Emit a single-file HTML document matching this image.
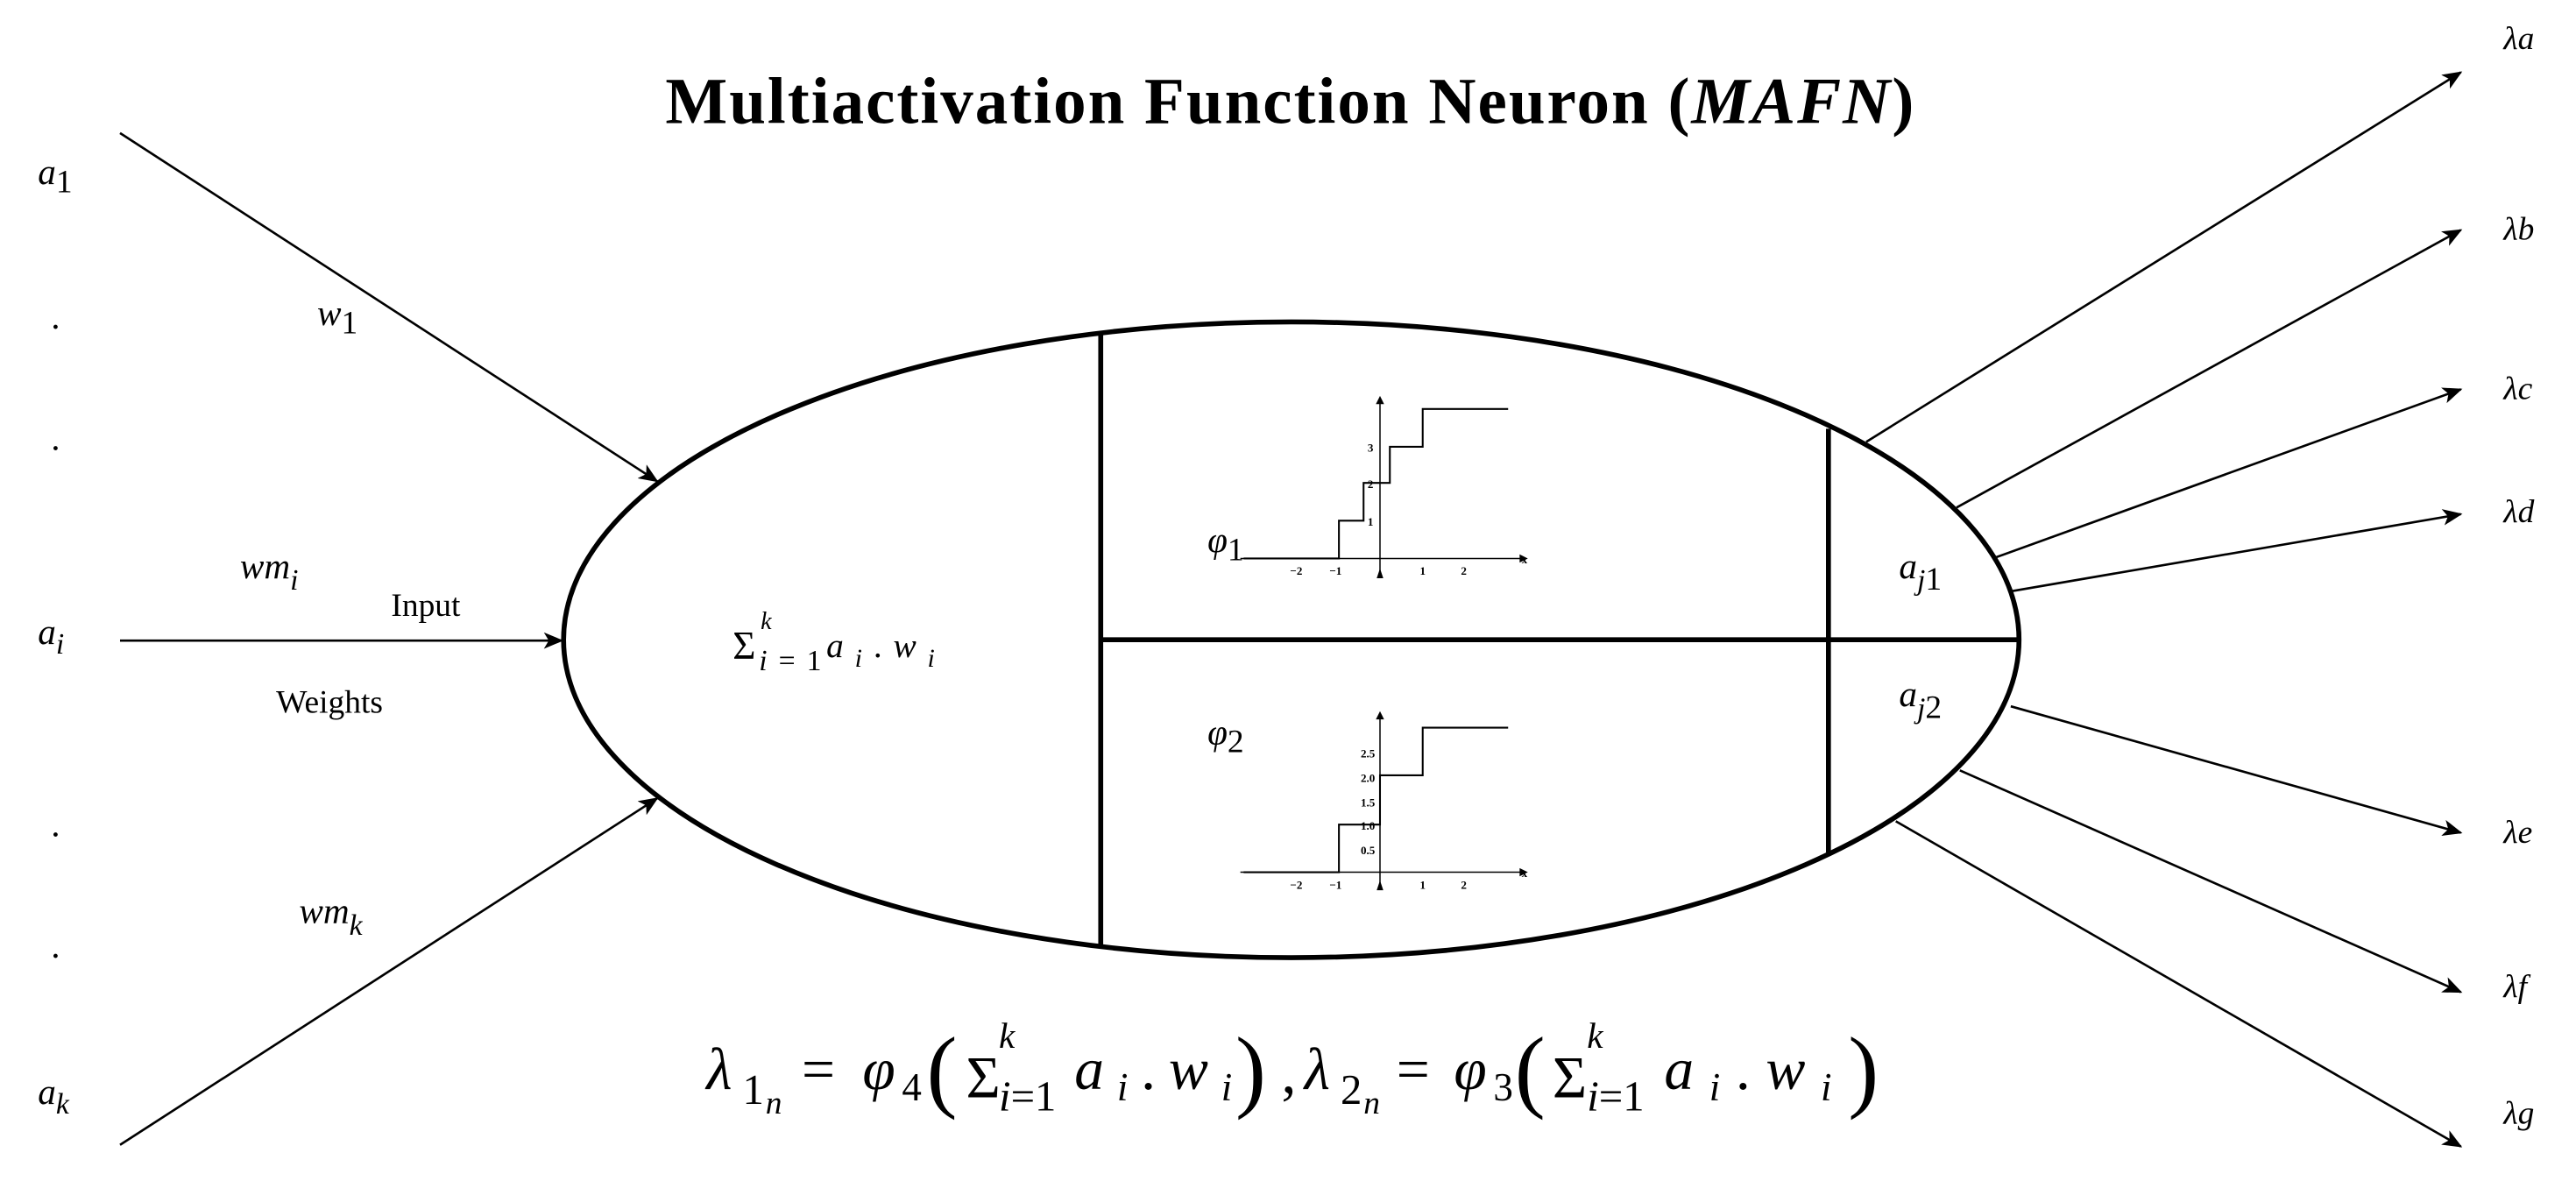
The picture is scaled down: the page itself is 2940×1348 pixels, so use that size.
<!DOCTYPE html>
<html><head><meta charset="utf-8"><style>
html,body{margin:0;padding:0;background:#fff}
svg{display:block}
text{font-family:"Liberation Serif",serif;fill:#000}
.m{font-style:italic}
.t{font-family:"Liberation Sans",sans-serif;font-weight:bold;font-size:7px}
</style></head><body>
<svg width="2940" height="1348" viewBox="0 0 1568 719" xmlns="http://www.w3.org/2000/svg">
<defs>
<marker id="ar" viewBox="0 0 12 10" refX="11" refY="5" markerWidth="12" markerHeight="10" markerUnits="userSpaceOnUse" orient="auto">
<path d="M0,0 L12,5 L0,10 L3,5 Z" fill="#000"/>
</marker>
</defs>
<text x="405" y="75" font-size="40" font-weight="bold" textLength="760" lengthAdjust="spacing">Multiactivation Function Neuron (<tspan font-style="italic">MAFN</tspan>)</text>

<g stroke="#000" stroke-width="1.4" fill="none">
<line x1="73" y1="81" x2="400" y2="293" marker-end="url(#ar)"/>
<line x1="73" y1="390" x2="342" y2="390" marker-end="url(#ar)"/>
<line x1="73" y1="697" x2="400" y2="486" marker-end="url(#ar)"/>
<line x1="1136" y1="269" x2="1498" y2="44" marker-end="url(#ar)"/>
<line x1="1191" y1="309" x2="1498" y2="140" marker-end="url(#ar)"/>
<line x1="1213" y1="340" x2="1498" y2="237" marker-end="url(#ar)"/>
<line x1="1224" y1="360" x2="1498" y2="313" marker-end="url(#ar)"/>
<line x1="1224" y1="430" x2="1498" y2="507" marker-end="url(#ar)"/>
<line x1="1193" y1="469" x2="1498" y2="604" marker-end="url(#ar)"/>
<line x1="1154" y1="500" x2="1498" y2="698" marker-end="url(#ar)"/>
</g>

<g stroke="#000" stroke-width="3" fill="none">
<ellipse cx="786" cy="389.5" rx="443" ry="193.5"/>
<line x1="670" y1="203" x2="670" y2="576"/>
<line x1="1113" y1="261" x2="1113" y2="519"/>
<line x1="670" y1="389.5" x2="1229" y2="389.5"/>
</g>

<g stroke="#000" fill="none">
<line x1="755" y1="340" x2="927" y2="340" stroke-width="0.8"/>
<line x1="840" y1="352" x2="840" y2="243" stroke-width="0.8"/>
<path d="M757,340 H815 V317 H830 V294 H846 V272 H866 V249 H918" stroke-width="1.1"/>
<line x1="755" y1="531" x2="927" y2="531" stroke-width="0.8"/>
<line x1="840" y1="541" x2="840" y2="435" stroke-width="0.8"/>
<path d="M757,531 H815 V502 H840 V472 H866 V443 H918" stroke-width="1.1"/>
</g>
<g fill="#000">
<path d="M925,337.5 L930,340 L925,342.5Z"/><path d="M837.5,246 L840,241 L842.5,246Z"/><path d="M838,352 L840,346 L842,352Z"/>
<path d="M925,528.5 L930,531 L925,533.5Z"/><path d="M837.5,438 L840,433 L842.5,438Z"/><path d="M838,542 L840,536 L842,542Z"/>
</g>
<g class="t" text-anchor="middle">
<text x="789" y="350">−2</text><text x="813" y="350">−1</text><text x="866" y="350">1</text><text x="891" y="350">2</text><text x="928" y="343">x</text>
<text x="836" y="320" text-anchor="end">1</text><text x="836" y="297" text-anchor="end">2</text><text x="836" y="275" text-anchor="end">3</text>
<text x="789" y="541">−2</text><text x="813" y="541">−1</text><text x="866" y="541">1</text><text x="891" y="541">2</text><text x="928" y="534">x</text>
<text x="837" y="520" text-anchor="end">0.5</text><text x="837" y="505" text-anchor="end">1.0</text><text x="837" y="491" text-anchor="end">1.5</text><text x="837" y="476" text-anchor="end">2.0</text><text x="837" y="461" text-anchor="end">2.5</text>
</g>

<g font-size="22">
<text x="23" y="112" class="m">a<tspan font-style="normal" font-size="20" dy="5">1</tspan></text>
<text x="23" y="392" class="m">a<tspan font-size="18" dy="6">i</tspan></text>
<text x="23" y="672" class="m">a<tspan font-size="18" dy="6">k</tspan></text>
<text x="31" y="200">.</text><text x="31" y="274">.</text><text x="31" y="509">.</text><text x="31" y="583">.</text>
<text x="193" y="198" class="m">w<tspan font-style="normal" font-size="20" dy="5">1</tspan></text>
<text x="146" y="352" class="m">wm<tspan font-size="18" dy="7">i</tspan></text>
<text x="182" y="562" class="m">wm<tspan font-size="18" dy="7">k</tspan></text>
<text x="238" y="375" font-size="20">Input</text>
<text x="168" y="434" font-size="20">Weights</text>
<text x="735" y="336" class="m">φ<tspan font-style="normal" font-size="20" dy="5">1</tspan></text>
<text x="735" y="453" class="m">φ<tspan font-style="normal" font-size="20" dy="5">2</tspan></text>
<text x="1156" y="352" class="m">a<tspan font-size="18" dy="7">j</tspan><tspan font-style="normal" font-size="20">1</tspan></text>
<text x="1156" y="430" class="m">a<tspan font-size="18" dy="7">j</tspan><tspan font-style="normal" font-size="20">2</tspan></text>
<text x="1524" y="30" class="m" font-size="20">λa</text>
<text x="1524" y="146" class="m" font-size="20">λb</text>
<text x="1524" y="243" class="m" font-size="20">λc</text>
<text x="1524" y="318" class="m" font-size="20">λd</text>
<text x="1524" y="513" class="m" font-size="20">λe</text>
<text x="1524" y="607" class="m" font-size="20">λf</text>
<text x="1524" y="684" class="m" font-size="20">λg</text>
</g>

<text x="446" y="401" font-size="24">Σ</text>
<text x="463" y="383" font-size="15" class="m">k</text>
<text x="462" y="408" font-size="18" textLength="38"><tspan class="m">i</tspan>=1</text>
<text x="503" y="400" font-size="21" class="m" textLength="66">a<tspan font-size="16" dy="6">i</tspan><tspan font-style="normal" dy="-6">.</tspan>w<tspan font-size="16" dy="6">i</tspan></text>

<g font-size="36">
<text x="430" y="663" class="m">λ</text>
<text x="452" y="672" font-size="26">1</text>
<text x="466" y="678" font-size="20" class="m">n</text>
<text x="488" y="663">=</text>
<text x="525" y="663" class="m">φ</text>
<text x="549" y="670" font-size="24">4</text>
<text x="564" y="670" font-size="56">(</text>
<text x="588" y="668">Σ</text>
<text x="608" y="638" font-size="22" class="m">k</text>
<text x="608" y="676" font-size="26"><tspan class="m">i</tspan>=1</text>
<text x="654" y="663" class="m" textLength="96">a<tspan font-size="24" dy="7">i</tspan><tspan font-style="normal" dy="-7">.</tspan>w<tspan font-size="24" dy="7">i</tspan></text>
<text x="752" y="670" font-size="56">)</text>
<text x="780" y="665">,</text>
<text x="794" y="663" class="m">λ</text>
<text x="816" y="672" font-size="26">2</text>
<text x="830" y="678" font-size="20" class="m">n</text>
<text x="850" y="663">=</text>
<text x="885" y="663" class="m">φ</text>
<text x="909" y="670" font-size="24">3</text>
<text x="922" y="670" font-size="56">(</text>
<text x="945" y="668">Σ</text>
<text x="966" y="638" font-size="22" class="m">k</text>
<text x="966" y="676" font-size="26"><tspan class="m">i</tspan>=1</text>
<text x="1013" y="663" class="m" textLength="102">a<tspan font-size="24" dy="7">i</tspan><tspan font-style="normal" dy="-7">.</tspan>w<tspan font-size="24" dy="7">i</tspan></text>
<text x="1125" y="670" font-size="56">)</text>
</g>
</svg>
</body></html>
